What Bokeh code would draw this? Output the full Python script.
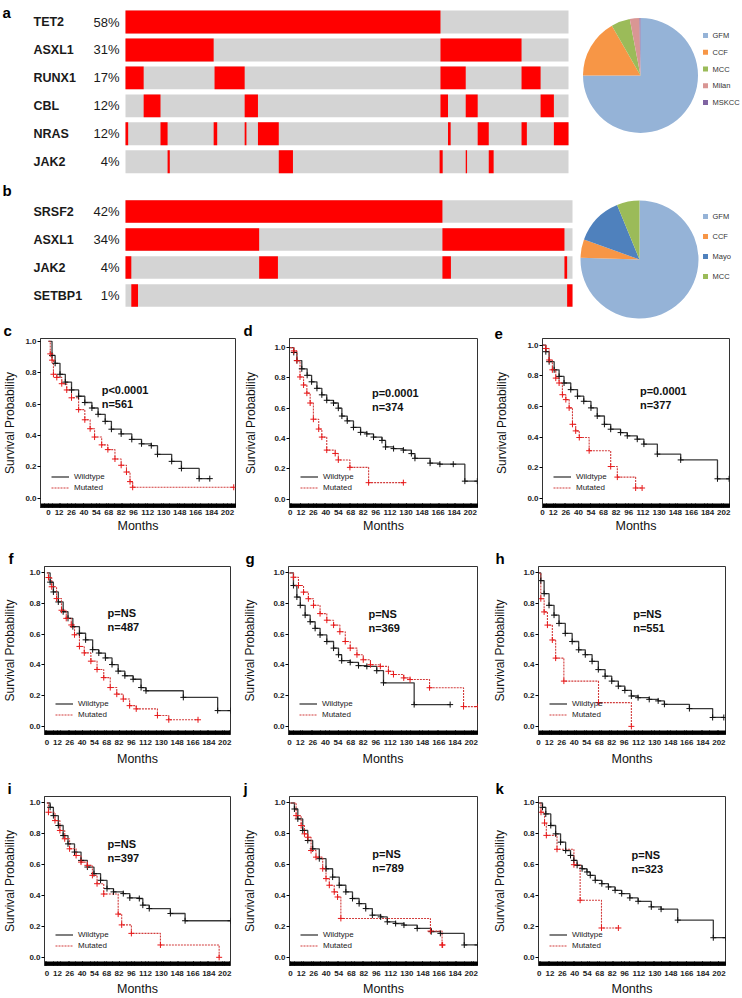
import numpy as np
from bokeh.plotting import figure
from bokeh.layouts import row, column
from bokeh.models import Range1d, FixedTicker, NumeralTickFormatter, Title, Legend, LegendItem
from bokeh.core.properties import value
from bokeh.embed import file_html
from bokeh.resources import INLINE

FONT = "Liberation Sans"
RED = "#ff0000"
GRAY = "#d4d4d4"
WT_LINE = "#3a3a3a"
WT_MARK = "#111111"
MU_LINE = "#d23c3c"
MU_MARK = "#e8191a"

# ---------------- panel a : oncoprint ----------------
genes_a = ["TET2", "ASXL1", "RUNX1", "CBL", "NRAS", "JAK2"]
pct_a = [58, 31, 17, 12, 12, 4]
seg_tet2_a = [(0, 71.1)]
seg_asxl1_a = [(0, 19.9), (71.1, 89.4)]
seg_runx1_a = [(0, 4.1), (20.1, 26.9), (71.1, 76.8), (89.4, 93.7)]
seg_cbl_a = [(4.1, 7.9), (26.9, 29.9), (71.1, 72.8), (76.8, 79.5), (93.7, 96.7)]
seg_nras_a = [(0, 0.6), (7.9, 9.5), (19.9, 20.7), (26.9, 27.3), (29.9, 34.6),
              (72.8, 73.4), (79.5, 82.0), (89.4, 90.6), (96.7, 100)]
seg_jak2_a = [(9.5, 10.0), (34.6, 37.8), (70.9, 71.6), (76.8, 77.1), (82.0, 83.1)]

cohort_a = ["GFM", "CCF", "MCC", "Milan", "MSKCC"]
share_a = [75.0, 16.7, 5.3, 2.7, 0.3]
color_a = ["#95b3d7", "#f79646", "#9bbb59", "#d99694", "#8064a2"]

# ---------------- panel b : oncoprint ----------------
genes_b = ["SRSF2", "ASXL1", "JAK2", "SETBP1"]
pct_b = [42, 34, 4, 1]
seg_srsf2_b = [(0, 70.9)]
seg_asxl1_b = [(0, 29.9), (70.9, 98.2)]
seg_jak2_b = [(0, 1.3), (29.9, 34.1), (70.9, 72.8), (98.2, 98.8)]
seg_setbp1_b = [(1.3, 2.8), (98.8, 100)]

cohort_b = ["GFM", "CCF", "Mayo", "MCC"]
share_b = [75.5, 5.0, 13.3, 6.2]
color_b = ["#95b3d7", "#f79646", "#4f81bd", "#9bbb59"]

# ---------------- Kaplan-Meier curves ----------------
x_ticks = [0, 12, 26, 40, 54, 68, 82, 96, 112, 130, 148, 166, 184, 202]
y_ticks = [0.0, 0.2, 0.4, 0.6, 0.8, 1.0]

c_wt_t = [0, 4, 7.5, 13, 19, 26, 34, 41, 49, 56, 64, 71, 82, 94, 105, 116, 123, 139, 150, 170, 182]
c_wt_s = [1.0, 0.91, 0.86, 0.79, 0.74, 0.69, 0.65, 0.61, 0.575, 0.535, 0.49, 0.44, 0.41, 0.375, 0.347,
          0.335, 0.28, 0.235, 0.19, 0.125, 0.125]
c_mu_t = [0, 2, 4, 5.6, 9.4, 15, 20.6, 26, 34, 41, 47, 52, 60, 67, 75, 82, 88, 92, 95, 209]
c_mu_s = [1.0, 0.92, 0.88, 0.79, 0.77, 0.73, 0.69, 0.64, 0.565, 0.50, 0.443, 0.39, 0.34, 0.31, 0.25,
          0.21, 0.167, 0.106, 0.07, 0.07]

d_wt_t = [0, 4, 7.5, 13, 19, 24, 30, 35.5, 41, 48.6, 54, 58, 64, 71, 79, 86, 93.5, 103, 107, 116,
          127, 136, 140, 157, 168, 183, 196, 210]
d_wt_s = [1.0, 0.968, 0.914, 0.86, 0.817, 0.774, 0.731, 0.688, 0.652, 0.634, 0.60, 0.548, 0.516,
          0.473, 0.44, 0.43, 0.409, 0.387, 0.344, 0.333, 0.323, 0.30, 0.269, 0.237, 0.23, 0.23, 0.118, 0.118]
d_mu_t = [0, 4, 7.5, 11, 15, 18.7, 22.4, 26, 32, 35.5, 41, 50.5, 54, 67, 88, 127]
d_mu_s = [1.0, 0.978, 0.914, 0.806, 0.753, 0.699, 0.634, 0.527, 0.462, 0.409, 0.323, 0.301, 0.258,
          0.209, 0.108, 0.108]

e_wt_t = [0, 3.7, 7.4, 13, 18.5, 24, 31.5, 39, 46, 54, 61, 69, 76, 87, 94.5, 105.6, 113, 128, 154, 195, 208]
e_wt_s = [1.0, 0.957, 0.892, 0.839, 0.796, 0.753, 0.71, 0.667, 0.634, 0.591, 0.538, 0.484, 0.452,
          0.43, 0.409, 0.387, 0.355, 0.29, 0.252, 0.129, 0.129]
e_mu_t = [0, 3.7, 7.4, 11, 14.8, 18.5, 22.2, 26, 29.7, 33.4, 37, 41, 52, 76, 83.4, 103.8, 111]
e_mu_s = [1.0, 0.978, 0.903, 0.839, 0.785, 0.753, 0.677, 0.645, 0.591, 0.484, 0.441, 0.398, 0.312,
          0.209, 0.14, 0.069, 0.069]

f_wt_t = [0, 3.7, 7.4, 13, 18.5, 24, 29.5, 37, 44, 52, 59, 66.5, 74, 81, 88.6, 98, 107, 112.6, 155, 194, 208.6]
f_wt_s = [1.0, 0.94, 0.876, 0.811, 0.747, 0.704, 0.65, 0.607, 0.564, 0.50, 0.478, 0.446, 0.403, 0.36,
          0.33, 0.307, 0.253, 0.232, 0.189, 0.103, 0.103]
f_mu_t = [0, 1.8, 5.5, 11, 16.6, 22, 27.7, 31.4, 37, 42.5, 50, 57, 64.6, 72, 79.4, 86.8, 94, 101.5,
          125.6, 138.5, 171.7]
f_mu_s = [1.0, 0.97, 0.91, 0.833, 0.757, 0.704, 0.661, 0.597, 0.521, 0.479, 0.425, 0.371, 0.318,
          0.253, 0.21, 0.178, 0.135, 0.114, 0.071, 0.043, 0.043]

g_wt_t = [0, 4.4, 8.2, 12, 17.4, 23, 28.5, 34, 41.5, 49, 54.5, 58, 67.5, 76.7, 86, 97, 104.5, 138.6, 178.6]
g_wt_s = [1.0, 0.918, 0.843, 0.789, 0.725, 0.682, 0.639, 0.596, 0.553, 0.51, 0.467, 0.428, 0.417,
          0.396, 0.391, 0.363, 0.284, 0.142, 0.142]
g_mu_t = [0, 4.4, 10, 15.6, 21, 26.7, 34, 41.5, 49, 56, 62, 67.5, 75, 82, 90, 101, 110, 115.6, 127,
          134, 155.7, 193.5, 209]
g_mu_s = [1.0, 0.972, 0.918, 0.875, 0.832, 0.789, 0.735, 0.692, 0.66, 0.617, 0.553, 0.51, 0.467,
          0.434, 0.402, 0.391, 0.359, 0.338, 0.316, 0.305, 0.252, 0.129, 0.129]

h_wt_t = [0, 2.6, 6.3, 11.8, 17.4, 23, 30, 37.7, 45, 52.4, 60, 67, 74.6, 82, 89.4, 96.7, 104, 111.5,
          124, 134, 141, 169, 195, 207.5]
h_wt_s = [1.0, 0.95, 0.865, 0.789, 0.725, 0.671, 0.606, 0.553, 0.499, 0.467, 0.424, 0.37, 0.327,
          0.295, 0.262, 0.234, 0.198, 0.187, 0.176, 0.166, 0.144, 0.116, 0.058, 0.058]
h_mu_t = [0, 2.6, 6.3, 10, 15.5, 19.2, 28.4, 67.2, 104]
h_mu_s = [1.0, 0.832, 0.746, 0.66, 0.563, 0.445, 0.295, 0.155, 0.0]

i_wt_t = [0, 3.7, 7.4, 13, 18.5, 24, 31.4, 38.8, 46, 53.5, 61, 68.3, 75.7, 86.8, 94.2, 105, 109,
          116.3, 140.3, 157, 208.6]
i_wt_s = [1.0, 0.972, 0.918, 0.854, 0.789, 0.735, 0.682, 0.628, 0.585, 0.542, 0.499, 0.445, 0.424,
          0.413, 0.385, 0.381, 0.338, 0.316, 0.284, 0.237, 0.237]
i_mu_t = [0, 1.8, 9.2, 14.8, 20.3, 25.8, 33.2, 38.8, 46, 51.7, 57, 64.6, 81, 85, 96, 129, 195.7]
i_mu_s = [1.0, 0.94, 0.886, 0.822, 0.768, 0.703, 0.66, 0.617, 0.596, 0.531, 0.477, 0.41, 0.28, 0.21,
          0.155, 0.08, 0.0]

j_wt_t = [0, 4.4, 8.2, 13.7, 19.3, 24.8, 32.2, 39.7, 47.1, 54.5, 61.9, 69.3, 76.7, 84.1, 91.5, 100.8,
          108.2, 117.5, 126.8, 141.6, 157.3, 167.5, 194.2, 209]
j_wt_s = [1.0, 0.961, 0.897, 0.822, 0.757, 0.703, 0.639, 0.574, 0.52, 0.467, 0.424, 0.381, 0.348,
          0.316, 0.273, 0.262, 0.23, 0.219, 0.209, 0.187, 0.166, 0.155, 0.08, 0.08]
j_mu_t = [0, 6.3, 11.9, 15.6, 19.3, 23, 28.5, 36, 39.7, 43.4, 48.9, 52.6, 56.3, 156.4, 169.4, 170]
j_mu_s = [1.0, 0.918, 0.854, 0.80, 0.778, 0.692, 0.649, 0.574, 0.51, 0.467, 0.424, 0.391, 0.252,
          0.17, 0.08, 0.08]

k_wt_t = [0, 3.7, 7.4, 13, 18.5, 24, 29.7, 35.2, 38.9, 42.6, 48.2, 53.7, 57.4, 63, 70.4, 77.8, 85.3,
          92.7, 101.9, 111.2, 126, 137, 155.7, 195.7, 209.4]
k_wt_s = [1.0, 0.972, 0.929, 0.854, 0.80, 0.746, 0.692, 0.66, 0.628, 0.596, 0.574, 0.553, 0.531,
          0.499, 0.477, 0.456, 0.434, 0.413, 0.385, 0.363, 0.327, 0.312, 0.241, 0.127, 0.127]
k_mu_t = [0, 2, 6, 8, 20, 39, 46, 70, 89]
k_mu_s = [1.0, 0.94, 0.87, 0.79, 0.70, 0.60, 0.37, 0.19, 0.19]

notes = {"c": "p<0.0001\nn=561", "d": "p=0.0001\nn=374", "e": "p=0.0001\nn=377",
         "f": "p=NS\nn=487", "g": "p=NS\nn=369", "h": "p=NS\nn=551",
         "i": "p=NS\nn=397", "j": "p=NS\nn=789", "k": "p=NS\nn=323"}


def bare_fig(width, height, xr, yr):
    p = figure(width=width, height=height, x_range=Range1d(*xr), y_range=Range1d(*yr),
               toolbar_location=None, output_backend="svg", title=None,
               x_axis_location=None, y_axis_location=None,
               min_border_left=0, min_border_right=0, min_border_top=0, min_border_bottom=0)
    p.grid.visible = False
    p.outline_line_color = None
    return p


def onco(width, height, genes, pcts, segs, bar_l, bar_r, row0, pitch, half, letter, letter_base, gene_size):
    pxu = (bar_r - bar_l) / 100.0
    xr = (-bar_l / pxu, (width - bar_l) / pxu)
    yr = ((height - row0) / pitch, -row0 / pitch)
    p = bare_fig(width, height, xr, yr)
    n = len(genes)
    rows = list(range(n))
    p.quad(left=[0] * n, right=[100] * n, top=[r - half for r in rows],
           bottom=[r + half for r in rows], fill_color=GRAY, line_color=None)
    L, R, T, B = [], [], [], []
    for r, sg in zip(rows, segs):
        for a, b in sg:
            L.append(a); R.append(b); T.append(r - half); B.append(r + half)
    p.quad(left=L, right=R, top=T, bottom=B, fill_color=RED, line_color=None)
    p.text(x=[(33 - bar_l) / pxu] * n, y=rows, text=genes, text_font=value(FONT),
           text_font_style="bold", text_font_size=gene_size, text_baseline="middle",
           text_align="left", text_color="#1a1a1a")
    p.text(x=[(119 - bar_l) / pxu] * n, y=rows, text=[f"{v}%" for v in pcts], text_font=value(FONT),
           text_font_size="13px", text_baseline="middle", text_align="right", text_color="#1a1a1a")
    p.text(x=[(2 - bar_l) / pxu], y=[(letter_base - row0) / pitch], text=[letter], text_font=value(FONT),
           text_font_style="bold", text_font_size="15px", text_baseline="alphabetic", text_align="left",
           text_color="#000000")
    return p


def pie(width, height, labels, shares, colors, cx, cy, r, leg_x, leg_y0, leg_dy):
    p = bare_fig(width, height, (0, width), (0, height))
    tot = float(sum(shares))
    cum = np.concatenate([[0.0], np.cumsum(shares)]) / tot
    start = list(np.pi / 2 - cum[:-1] * 2 * np.pi)
    end = list(np.pi / 2 - cum[1:] * 2 * np.pi)
    n = len(shares)
    p.wedge(x=[cx] * n, y=[height - cy] * n, radius=r, start_angle=start, end_angle=end,
            direction="clock", fill_color=colors, line_color=None)
    ly = [height - (leg_y0 + i * leg_dy) for i in range(n)]
    p.scatter(x=[leg_x] * n, y=ly, marker="square", size=5, fill_color=colors, line_color=None)
    p.text(x=[leg_x + 7] * n, y=ly, text=labels, text_font=value(FONT), text_font_size="7.5px",
           text_baseline="middle", text_align="left", text_color="#333333")
    return p


def km(letter, wt_t, wt_s, mu_t, mu_s, nxy, xr, yr, w, h, left, fw, top, fh, lx,
       ylab_st, xlab_st, xaxlab_st):
    right = w - left - fw
    bottom = h - top - fh
    ttl = Title(text=letter, align="left", offset=lx - left, standoff=0, vertical_align="bottom",
                text_font=FONT, text_font_size="15px", text_font_style="bold", text_color="#000000",
                text_line_height=0.9)
    p = figure(width=w, height=h, x_range=Range1d(*xr), y_range=Range1d(*yr),
               toolbar_location=None, output_backend="svg", title=ttl,
               min_border_left=left, min_border_right=right, min_border_top=top, min_border_bottom=bottom)
    p.grid.visible = False
    p.outline_line_color = "#333333"
    p.outline_line_width = 1
    wt = p.step(x=wt_t, y=wt_s, mode="after", line_color=WT_LINE, line_width=1.3)
    mu = p.step(x=mu_t, y=mu_s, mode="after", line_color=MU_LINE, line_width=1.1, line_dash="2 1")
    p.scatter(x=wt_t[1:], y=wt_s[1:], marker="cross", size=6, line_color=WT_MARK, line_width=1)
    p.scatter(x=mu_t[1:], y=mu_s[1:], marker="cross", size=6, line_color=MU_MARK, line_width=1)
    p.text(x=[nxy[0]], y=[nxy[1]], text=[notes[letter]], text_font=value(FONT), text_font_style="bold",
           text_font_size="11px", text_baseline="top", text_align="left", text_color="#111111",
           text_line_height=1.2)

    xa = p.xaxis[0]
    xa.ticker = FixedTicker(ticks=x_ticks, minor_ticks=list(np.arange(-10, 213, 1)))
    xa.major_tick_in = 4; xa.major_tick_out = 0
    xa.minor_tick_in = 4; xa.minor_tick_out = 0
    xa.major_tick_line_color = "#000000"; xa.minor_tick_line_color = "#000000"
    xa.axis_line_color = "#333333"
    xa.major_label_text_font = FONT
    xa.major_label_text_font_size = "8px"
    xa.major_label_text_font_style = "bold"
    xa.major_label_text_color = "#222222"
    xa.major_label_standoff = xlab_st
    xa.axis_label = "Months"
    xa.axis_label_text_font = FONT
    xa.axis_label_text_font_size = "12.5px"
    xa.axis_label_text_font_style = "normal"
    xa.axis_label_text_color = "#111111"
    xa.axis_label_standoff = xaxlab_st

    ya = p.yaxis[0]
    ya.ticker = FixedTicker(ticks=y_ticks)
    ya.formatter = NumeralTickFormatter(format="0.0")
    ya.major_tick_in = 0; ya.major_tick_out = 3
    ya.minor_tick_in = 0; ya.minor_tick_out = 0
    ya.axis_line_color = "#333333"
    ya.major_label_text_font = FONT
    ya.major_label_text_font_size = "8px"
    ya.major_label_text_font_style = "bold"
    ya.major_label_text_color = "#222222"
    ya.major_label_standoff = 1
    ya.axis_label = "Survival Probability"
    ya.axis_label_text_font = FONT
    ya.axis_label_text_font_size = "12px"
    ya.axis_label_text_font_style = "normal"
    ya.axis_label_text_color = "#111111"
    ya.axis_label_standoff = ylab_st

    leg = Legend(items=[LegendItem(label="Wildtype", renderers=[wt]),
                        LegendItem(label="Mutated", renderers=[mu])],
                 location=(11, 14), padding=0, margin=0, spacing=0,
                 glyph_width=18, glyph_height=11, label_height=11, label_standoff=5,
                 label_text_font=FONT, label_text_font_size="8px", label_text_color="#222222",
                 border_line_color=None, background_fill_alpha=0)
    p.add_layout(leg)
    return p


# ---------------- build ----------------
pa = onco(576, 176, genes_a, pct_a,
          [seg_tet2_a, seg_asxl1_a, seg_runx1_a, seg_cbl_a, seg_nras_a, seg_jak2_a],
          125, 568, 21.5, 27.95, 0.41, "a", 12, "12.5px")
pie_a = pie(166, 176, cohort_a, share_a, color_a, 64, 75, 57.5, 129, 35, 16.75)

pb = onco(576, 143, genes_b, pct_b, [seg_srsf2_b, seg_asxl1_b, seg_jak2_b, seg_setbp1_b],
          125, 572, 35, 28, 0.40, "b", 14, "12.5px")
pie_b = pie(166, 143, cohort_b, share_b, color_b, 63, 83, 59, 129, 40, 20)

Y1 = (-0.053, 1.042)
c = km("c", c_wt_t, c_wt_s, c_mu_t, c_mu_s, (60, 0.73), (-9, 211), (-0.059, 1.018),
       237, 221, 39, 196, 12, 176, 2, 5, 2, 1)
d = km("d", d_wt_t, d_wt_s, d_mu_t, d_mu_s, (91.7, 0.742), (-0.8, 210.2), (-0.056, 1.06),
       253, 221, 52, 188, 14, 174, 6, 13, 2, 1)
e = km("e", e_wt_t, e_wt_s, e_mu_t, e_mu_s, (108.6, 0.742), (0, 208.4), (-0.058, 1.043),
       252, 221, 52, 187, 18, 170, 4, 15, 2, 1)

f = km("f", f_wt_t, f_wt_s, f_mu_t, f_mu_s, (69, 0.779), (-2.7, 208.6), Y1,
       237, 228, 39, 191, 26, 170, 3, 9, 5, 4)
g = km("g", g_wt_t, g_wt_s, g_mu_t, g_mu_s, (87.8, 0.774), (-1.1, 209), Y1,
       253, 228, 51, 189, 26, 170, 8, 13, 5, 4)
h = km("h", h_wt_t, h_wt_s, h_mu_t, h_mu_s, (106, 0.774), (0, 209.4), Y1,
       252, 228, 46, 189, 26, 170, 3, 13, 5, 4)

i = km("i", i_wt_t, i_wt_s, i_mu_t, i_mu_s, (69, 0.774), (-2.7, 208.6), Y1,
       237, 230, 39, 191, 28, 170, 2, 9, 5, 3)
j = km("j", j_wt_t, j_wt_s, j_mu_t, j_mu_s, (91.5, 0.71), (-1.1, 209), Y1,
       253, 230, 52, 188, 28, 170, 6, 14, 5, 3)
k = km("k", k_wt_t, k_wt_s, k_mu_t, k_mu_s, (103.8, 0.703), (-0.8, 209.4), Y1,
       252, 230, 46, 189, 28, 170, 3, 13, 5, 3)

layout = column(row(pa, pie_a), row(pb, pie_b), row(c, d, e), row(f, g, h), row(i, j, k))

open("out.html", "w").write(file_html(layout, INLINE))
